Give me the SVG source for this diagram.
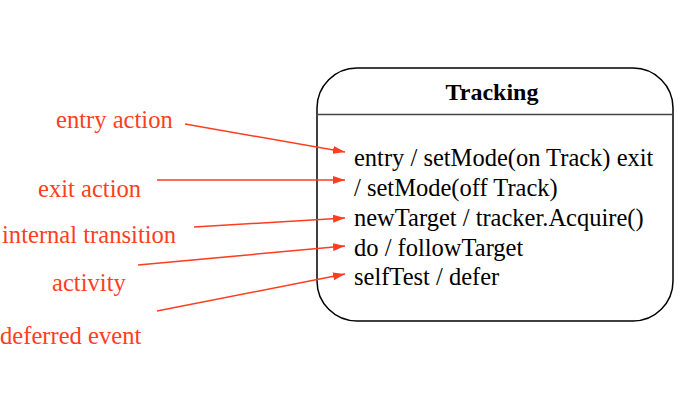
<svg xmlns="http://www.w3.org/2000/svg" width="690" height="417" viewBox="0 0 690 417">
<defs>
<style>
.lbl{font-family:"Liberation Serif","Times New Roman",serif;font-size:24.6px;fill:#ff3d1f}
.txt{font-family:"Liberation Serif","Times New Roman",serif;font-size:24.5px;fill:#000}
.ttl{font-family:"Liberation Serif","Times New Roman",serif;font-size:24px;font-weight:bold;fill:#000}
.con{stroke:#ff3d1f;stroke-width:1.5;fill:none;marker-end:url(#ah)}
</style>
<marker id="ah" viewBox="0 0 12 8" refX="12" refY="4" markerWidth="12" markerHeight="8" markerUnits="userSpaceOnUse" orient="auto">
<path d="M0,0 L12,4 L0,8 Z" fill="#ff3d1f"/>
</marker>
</defs>
<rect width="690" height="417" fill="#fff"/>
<g id="tracking">
<rect x="317" y="68" width="356" height="253" rx="40" ry="40" fill="#fff" stroke="#000" stroke-width="1.5"/>
<line x1="317" y1="114.5" x2="673" y2="114.5" stroke="#444" stroke-width="1.5"/>
<text class="ttl" x="492" y="100" text-anchor="middle">Tracking</text>
<text class="txt" x="354" y="166">entry / setMode(on Track) exit</text>
<text class="txt" x="354" y="196">/ setMode(off Track)</text>
<text class="txt" x="354" y="226">newTarget / tracker.Acquire()</text>
<text class="txt" x="354" y="256">do / followTarget</text>
<text class="txt" x="354" y="285">selfTest / defer</text>
</g>
<g id="label-entry"><text class="lbl" x="56" y="128">entry action</text></g>
<g id="label-exit"><text class="lbl" x="38" y="197">exit action</text></g>
<g id="label-internal"><text class="lbl" x="2" y="243">internal transition</text></g>
<g id="label-activity"><text class="lbl" x="52" y="291">activity</text></g>
<g id="label-deferred"><text class="lbl" x="0" y="344">deferred event</text></g>
<g id="connectors">
<line class="con" x1="185" y1="124" x2="345" y2="152"/>
<line class="con" x1="157" y1="180" x2="345" y2="180"/>
<line class="con" x1="194" y1="227" x2="345" y2="218"/>
<line class="con" x1="138" y1="265" x2="345" y2="246"/>
<line class="con" x1="157" y1="311" x2="345" y2="274"/>
</g>
</svg>
